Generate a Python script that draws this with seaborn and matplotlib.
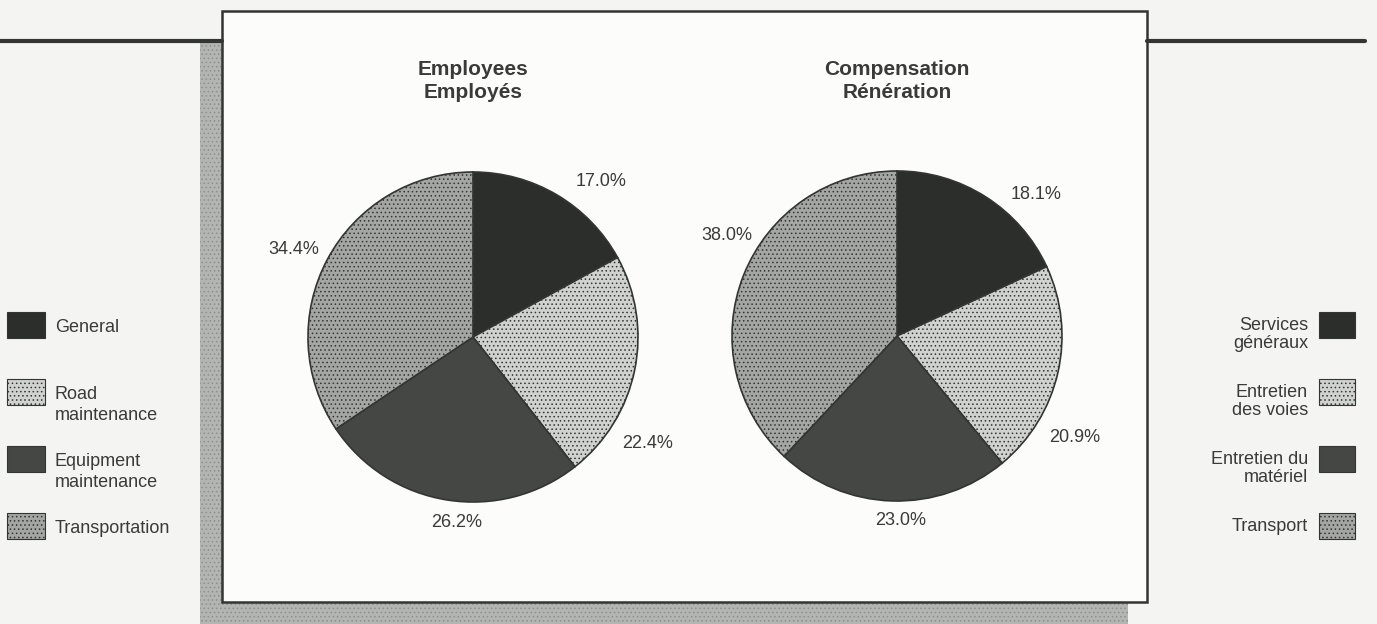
import numpy as np
import pandas as pd
import seaborn as sns
import matplotlib.pyplot as plt
from matplotlib.patches import Rectangle
from matplotlib.lines import Line2D

# Values
groups_en = ['General', 'Road\nmaintenance', 'Equipment\nmaintenance', 'Transportation']
groups_fr = ['Services\ngénéraux', 'Entretien\ndes voies', 'Entretien du\nmatériel', 'Transport']
employees = [17.0, 22.4, 26.2, 34.4]
compensation = [18.1, 20.9, 23.0, 38.0]
titles = ['Employees\nEmployés', 'Compensation\nRénération']

sns.set_theme(style='white')
plt.rcParams['font.family'] = ['Liberation Sans', 'DejaVu Sans']
plt.rcParams['hatch.linewidth'] = 0.6

shades = ['#2b2e2b', '#d0d2d0', '#444744', '#a3a6a3']
hatches = ['', '....', '', '....']
ink = '#333533'
txt = '#3a3a3a'

# where the percentage labels sit (clockwise nudge from slice middle, radius)
label_nudge = [[9, 20, -4, -2], [12, 17, -3, 9]]
label_dist = [[1.22, 1.24, 1.13, 1.21], [1.2, 1.24, 1.12, 1.2]]

W, H = 1377, 624
fig = plt.figure(figsize=(W / 100, H / 100), dpi=100, facecolor='#f4f4f2')


def box(x, y, w, h, **kw):
    # rectangle given in pixel coords measured from the top-left corner
    fig.patches.append(Rectangle((x / W, 1 - (y + h) / H), w / W, h / H,
                                 transform=fig.transFigure, **kw))


# shadow behind the white panel, then the panel
box(200, 40, 928, 584, facecolor='#b3b5b3', edgecolor='#8d8f8d', hatch='....', lw=0, zorder=0)
box(222, 11, 925, 591, facecolor='#fcfcfa', edgecolor=ink, lw=1.8, zorder=1)
# rule across the page
for x0, x1 in [(0, 222), (1147, 1365)]:
    fig.lines.append(Line2D([x0 / W, x1 / W], [1 - 41 / H] * 2, lw=3, color=ink,
                            transform=fig.transFigure))

R = 165
centers = [(473, 337), (897, 336)]
for k, ((cx, cy), vals, title) in enumerate(zip(centers, [employees, compensation], titles)):
    ax = fig.add_axes([(cx - R) / W, 1 - (cy + R) / H, 2 * R / W, 2 * R / H])
    ax.set_zorder(2)
    wedges, _ = ax.pie(vals, colors=shades, startangle=90, counterclock=False,
                       wedgeprops=dict(edgecolor=ink, linewidth=1.2))
    for w, h, v, nd, dist in zip(wedges, hatches, vals, label_nudge[k], label_dist[k]):
        w.set_hatch(h)
        ang = np.deg2rad((w.theta1 + w.theta2) / 2 - nd)
        ax.text(dist * np.cos(ang), dist * np.sin(ang), f'{v:.1f}%', ha='center',
                va='center', fontsize=13, color=txt)
    ax.set_xlim(-1, 1)
    ax.set_ylim(-1, 1)
    ax.axis('off')
    fig.text(cx / W, 1 - 81 / H, title, ha='center', va='center', fontsize=15,
             fontweight='bold', color=txt, linespacing=1.3, zorder=3)

# legends: English on the left, French on the right
for i, (en, fr, c, h) in enumerate(zip(groups_en, groups_fr, shades, hatches)):
    top = 312 + 67 * i
    box(7, top, 38, 26, facecolor=c, edgecolor=ink, hatch=h, lw=0.8)
    box(1319, top, 36, 26, facecolor=c, edgecolor=ink, hatch=h, lw=0.8)
    fig.text(55 / W, 1 - (top + 7) / H, en, ha='left', va='top', fontsize=13,
             color=txt, linespacing=1.3)
    fig.text(1308 / W, 1 - (top + 5) / H, fr, ha='right', va='top', fontsize=13,
             color=txt, linespacing=1.1, multialignment='right')

fig.savefig('out.png', dpi=100, facecolor=fig.get_facecolor())
